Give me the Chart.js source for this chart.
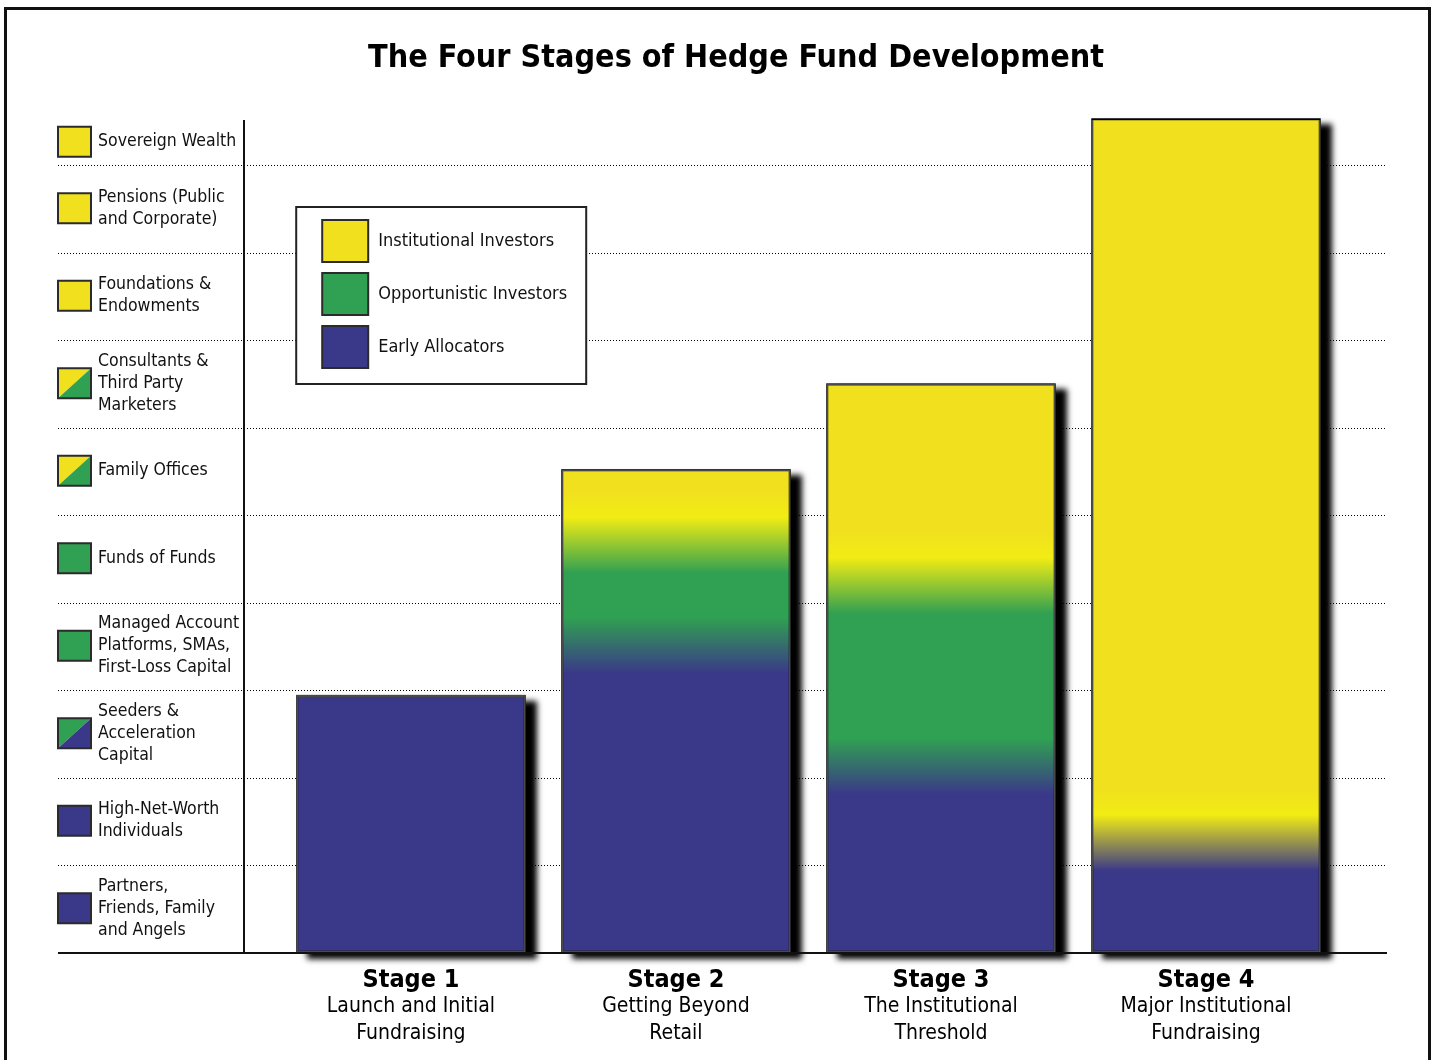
<!DOCTYPE html>
<html>
<head>
<meta charset="utf-8">
<title>The Four Stages of Hedge Fund Development</title>
<script src="https://cdn.jsdelivr.net/npm/chart.js@4"></script>
<style>
  html, body { margin: 0; padding: 0; background: #fff; }
  body { width: 1435px; height: 1060px; position: relative; overflow: hidden; }
  #frame { position: absolute; left: 4px; top: 7px; width: 1421px; height: 1100px; border: 3px solid #111; }
  #stageChart { position: absolute; left: 0; top: 0; }
</style>
</head>
<body>
<div id="frame"></div>
<canvas id="stageChart" width="1435" height="1060"></canvas>
<script>
// ========== DATA ========== //
const stageNames = ['Stage 1', 'Stage 2', 'Stage 3', 'Stage 4'];
const stageSubtitles = [
    ['Launch and Initial', 'Fundraising'],
    ['Getting Beyond', 'Retail'],
    ['The Institutional', 'Threshold'],
    ['Major Institutional', 'Fundraising']
];
const stagePositions = [1, 2, 3, 4];

// series, bottom to top inside each bar (in investor-type rows)
const seriesNames = ['Early Allocators', 'Opportunistic Investors', 'Institutional Investors'];
const seriesColors = ['#3a3889', '#30a052', '#f0e01e'];
const earlyAllocators = [2.95, 3.51, 2.13, 1.26];
const opportunisticInvestors = [0, 1.15, 2.07, 0];
const institutionalInvestors = [0, 0.87, 2.31, 8.28];

// investor type rows, bottom to top; swatch = series index (top-left, bottom-right)
const investorTypes = [
    ['Partners,', 'Friends, Family', 'and Angels'],
    ['High-Net-Worth', 'Individuals'],
    ['Seeders &', 'Acceleration', 'Capital'],
    ['Managed Account', 'Platforms, SMAs,', 'First-Loss Capital'],
    ['Funds of Funds'],
    ['Family Offices'],
    ['Consultants &', 'Third Party', 'Marketers'],
    ['Foundations &', 'Endowments'],
    ['Pensions (Public', 'and Corporate)'],
    ['Sovereign Wealth']
];
const investorSwatches = [[0], [0], [1, 0], [1], [1], [2, 1], [2, 1], [2], [2], [2]];
const rowTicks = [0, 1, 2, 3, 4, 5, 6, 7, 8, 9];
const yMax = 9.52;

// ========== STYLE ========== //
const FONT = "'DejaVu Sans Condensed', 'DejaVu Sans', sans-serif";
const BLEND = 0.32;       // half width of the colour blend between series
const stageTotals = stagePositions.map((p, i) =>
    earlyAllocators[i] + opportunisticInvestors[i] + institutionalInvestors[i]);

function clamp01(v) { return Math.max(0, Math.min(1, v)); }

// vertical gradient for each bar, built from the series stack
function barFill(context) {
    const chart = context.chart;
    if (!chart.chartArea) return seriesColors[0];
    const i = context.dataIndex;
    const y = chart.scales.y;
    const parts = [earlyAllocators[i], opportunisticInvestors[i], institutionalInvestors[i]];
    const total = stageTotals[i];
    const g = chart.ctx.createLinearGradient(0, y.getPixelForValue(0), 0, y.getPixelForValue(total));
    const segs = [];
    let acc = 0;
    parts.forEach((v, k) => {
        if (v > 0) segs.push({ k, from: acc, to: acc + v });
        acc += v;
    });
    g.addColorStop(0, seriesColors[segs[0].k]);
    for (let s = 1; s < segs.length; s++) {
        const b = segs[s].from;
        g.addColorStop(clamp01((b - BLEND) / total), seriesColors[segs[s - 1].k]);
        if (segs[s].k === 2) {
            g.addColorStop(clamp01((b + BLEND) / total), '#f2ec14');
            g.addColorStop(clamp01((b + BLEND + 0.3) / total), seriesColors[2]);
        } else {
            g.addColorStop(clamp01((b + BLEND) / total), seriesColors[segs[s].k]);
        }
    }
    g.addColorStop(1, seriesColors[segs[segs.length - 1].k]);
    return g;
}

function drawSwatch(ctx, x, y, w, h, colors) {
    ctx.save();
    if (colors.length === 1) {
        ctx.fillStyle = seriesColors[colors[0]];
        ctx.fillRect(x, y, w, h);
    } else {
        ctx.fillStyle = seriesColors[colors[0]];
        ctx.beginPath();
        ctx.moveTo(x, y); ctx.lineTo(x + w, y); ctx.lineTo(x, y + h); ctx.closePath();
        ctx.fill();
        ctx.fillStyle = seriesColors[colors[1]];
        ctx.beginPath();
        ctx.moveTo(x + w, y); ctx.lineTo(x + w, y + h); ctx.lineTo(x, y + h); ctx.closePath();
        ctx.fill();
    }
    ctx.lineWidth = 2;
    ctx.strokeStyle = '#2b2b2b';
    ctx.strokeRect(x, y, w, h);
    ctx.restore();
}

// ========== PLUGINS ========== //
const shadowPlugin = {
    id: 'barShadow',
    beforeDatasetsDraw(chart) {
        const ctx = chart.ctx;
        const meta = chart.getDatasetMeta(0);
        ctx.save();
        ctx.shadowColor = '#000';
        ctx.shadowBlur = 6;
        ctx.shadowOffsetX = 11;
        ctx.shadowOffsetY = 6;
        ctx.fillStyle = '#000';
        meta.data.forEach(bar => {
            const p = bar.getProps(['x', 'y', 'base', 'width'], true);
            ctx.fillRect(p.x - p.width / 2, p.y, p.width, p.base - p.y);
        });
        ctx.restore();
    }
};

const framePlugin = {
    id: 'axesAndLabels',
    afterDatasetsDraw(chart) {
        const ctx = chart.ctx;
        const area = chart.chartArea;
        const x = chart.scales.x;
        const y = chart.scales.y;
        const base = y.getPixelForValue(0);

        // axis lines
        ctx.save();
        ctx.strokeStyle = '#111';
        ctx.lineWidth = 2;
        ctx.beginPath();
        ctx.moveTo(y.left, base); ctx.lineTo(area.right, base);
        ctx.moveTo(area.left, area.top); ctx.lineTo(area.left, base);
        ctx.stroke();
        ctx.restore();

        // investor type rows on the left
        ctx.save();
        ctx.fillStyle = '#111';
        ctx.font = '17.5px ' + FONT;
        ctx.textBaseline = 'middle';
        investorTypes.forEach((lines, i) => {
            const top = y.getPixelForValue(Math.min(i + 1, yMax));
            const bottom = y.getPixelForValue(i);
            const mid = (top + bottom) / 2 - 1;
            drawSwatch(ctx, y.left, mid - 15, 33, 30, investorSwatches[i]);
            const lh = 22;
            lines.forEach((t, j) => {
                ctx.fillText(t, y.left + 40, mid + (j - (lines.length - 1) / 2) * lh);
            });
        });
        ctx.restore();

        // stage labels under the bars
        ctx.save();
        ctx.fillStyle = '#000';
        ctx.textAlign = 'center';
        ctx.textBaseline = 'middle';
        stagePositions.forEach((p, i) => {
            const cx = x.getPixelForValue(p);
            ctx.font = 'bold 25px ' + FONT;
            ctx.fillText(stageNames[i], cx, base + 27);
            ctx.font = '21px ' + FONT;
            stageSubtitles[i].forEach((t, j) => ctx.fillText(t, cx, base + 54 + j * 27));
        });
        ctx.restore();

        // legend box
        const first = chart.getDatasetMeta(0).data[0].getProps(['x', 'width'], true);
        const lx = first.x - first.width / 2;
        const ly = area.top + 87;
        ctx.save();
        ctx.fillStyle = '#fff';
        ctx.fillRect(lx, ly, 290, 177);
        ctx.lineWidth = 2;
        ctx.strokeStyle = '#222';
        ctx.strokeRect(lx, ly, 290, 177);
        ctx.font = '18px ' + FONT;
        ctx.fillStyle = '#111';
        ctx.textBaseline = 'middle';
        [2, 1, 0].forEach((k, j) => {
            const sy = ly + 13 + j * 53;
            drawSwatch(ctx, lx + 26, sy, 46, 42, [k]);
            ctx.fillText(seriesNames[k], lx + 82, sy + 21);
        });
        ctx.restore();
    }
};

// ========== CHART ========== //
const ctx = document.getElementById('stageChart').getContext('2d');
const stageChart = new Chart(ctx, {
    type: 'bar',
    data: {
        datasets: [{
            label: 'Investor base',
            data: stagePositions.map((p, i) => ({ x: p, y: stageTotals[i] })),
            backgroundColor: barFill,
            borderColor: '#4a4a4a',
            borderWidth: 2,
            borderSkipped: false,
            barPercentage: 0.866,
            categoryPercentage: 1
        }]
    },
    options: {
        responsive: false,
        animation: false,
        devicePixelRatio: 1,
        layout: { padding: { left: 58, right: 21, top: 0, bottom: 0 } },
        plugins: {
            legend: { display: false },
            tooltip: { enabled: false },
            title: {
                display: true,
                text: 'The Four Stages of Hedge Fund Development',
                color: '#000',
                font: { family: FONT, size: 32, weight: 'bold' },
                padding: { top: 39, bottom: 42.6 }
            }
        },
        scales: {
            x: {
                type: 'linear',
                min: 0.37,
                max: 4.683,
                offset: false,
                afterBuildTicks(scale) { scale.ticks = stagePositions.map(v => ({ value: v })); },
                grid: { display: false },
                border: { display: false },
                ticks: { display: false },
                afterFit(scale) { scale.height = 107; }
            },
            y: {
                min: 0,
                max: yMax,
                afterBuildTicks(scale) { scale.ticks = rowTicks.map(v => ({ value: v })); },
                ticks: { display: false },
                grid: {
                    color: '#000',
                    lineWidth: 1,
                    drawTicks: true,
                    tickLength: 186,
                    tickColor: '#000',
                    tickBorderDash: [1, 2]
                },
                border: { display: false, dash: [1, 2] },
                afterFit(scale) { scale.width = 186; }
            },
            pad: {
                type: 'linear',
                position: 'right',
                grid: { display: false, drawTicks: false },
                ticks: { display: false },
                border: { display: false },
                afterFit(scale) { scale.width = 27; }
            }
        }
    },
    plugins: [shadowPlugin, framePlugin]
});
</script>
</body>
</html>
